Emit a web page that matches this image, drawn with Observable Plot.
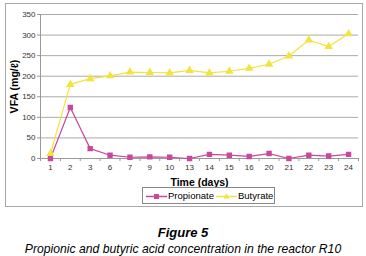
<!DOCTYPE html>
<html><head><meta charset="utf-8">
<script src="https://cdn.jsdelivr.net/npm/d3@7"></script>
<script src="https://cdn.jsdelivr.net/npm/@observablehq/plot@0.6"></script>
<style>
body{margin:0;background:#fff;font-family:"Liberation Sans",Arial,sans-serif;}
#wrap{position:relative;width:366px;height:256px;}
#box{position:absolute;left:5px;top:3px;width:356px;height:202px;border:1px solid #a8a8a8;box-sizing:content-box;}
#chart{position:absolute;left:0;top:0;}
#legend{position:absolute;left:142px;top:187px;width:131px;height:15px;border:1px solid #888;background:#fff;font-size:9.5px;white-space:nowrap;}
#legend .item{position:absolute;top:0;height:15px;display:flex;align-items:center;}
#legend svg{margin-right:1px;}
#cap1{position:absolute;left:0;top:225px;width:366px;text-align:center;font-weight:bold;font-style:italic;font-size:13px;}
#cap2{position:absolute;left:0;top:242px;width:366px;text-align:center;font-style:italic;font-size:12.2px;}
svg g[aria-label="y-axis label"] text, svg g[aria-label="x-axis label"] text{font-weight:bold;font-size:10.5px;fill:#000;}
</style></head>
<body>
<div id="wrap">
<div id="box"></div>
<div id="chart"></div>
<div id="legend"></div>
<div id="cap1">Figure 5</div>
<div id="cap2">Propionic and butyric acid concentration in the reactor R10</div>
</div>
<script>
const days = ["1","2","3","6","7","9","10","13","14","15","16","20","21","22","23","24"];
const propionate = [0,124,24,8,3,4,3,0,10,8,5,12,0,8,6,10];
const butyrate = [12,180,194,201,210,209,208,214,208,212,219,229,249,288,272,303];
const seriesNames = ["Propionate","Butyrate"];
const colors = ["#c9479c","#f3e33f"];
const yTicks = [0,50,100,150,200,250,300,350];

const rows = [];
days.forEach((d,i)=>{
  rows.push({i, day:d, series:"Propionate", value:propionate[i]});
  rows.push({i, day:d, series:"Butyrate", value:butyrate[i]});
});
const boundaries = d3.range(-0.5, days.length, 1);

const plot = Plot.plot({
  width:366, height:190,
  marginLeft:40, marginRight:8, marginTop:14, marginBottom:32,
  style:{fontFamily:"Liberation Sans, Arial, sans-serif", fontSize:"8px", background:"transparent"},
  x:{type:"linear", domain:[-0.5, days.length-0.5]},
  y:{domain:[0,350]},
  color:{domain:seriesNames, range:colors},
  symbol:{domain:seriesNames, range:["square","triangle"]},
  marks:[
    Plot.gridY(yTicks.filter(v=>v>0), {stroke:"#aaa", strokeOpacity:1, strokeWidth:1}),
    Plot.axisY({ticks:yTicks, tickSize:3, stroke:"#999", label:"VFA (mg/ℓ)", labelAnchor:"center", labelArrow:"none", labelOffset:30, tickPadding:2, fill:"#333"}),
    Plot.axisX({ticks:d3.range(days.length), tickSize:0, tickFormat:i=>days[i], label:"Time (days)", labelAnchor:"center", labelArrow:"none", labelOffset:27, tickPadding:6, fill:"#333"}),
    Plot.axisX({ticks:boundaries, tickSize:3, tickFormat:()=>"", stroke:"#999", label:null}),
    Plot.ruleX([-0.5], {stroke:"#999"}),
    Plot.ruleY([0], {stroke:"#999"}),
    Plot.line(rows, {x:"i", y:"value", z:"series", stroke:"series", strokeWidth:1.2}),
    Plot.dot(rows, {x:"i", y:"value", fill:"series", stroke:"series", symbol:"series", r:2.2})
  ]
});
document.getElementById("chart").appendChild(plot);

const leg = document.getElementById("legend");
const legLeft = [3, 73];
seriesNames.forEach((s,k)=>{
  const item = document.createElement("span");
  item.className="item";
  item.style.left = legLeft[k] + "px";
  const shape = k===0
    ? `<rect x="8" y="4" width="5" height="5" fill="${colors[k]}"/>`
    : `<path d="M10.5,3.5 L13.5,8.5 L7.5,8.5 Z" fill="${colors[k]}"/>`;
  item.innerHTML = `<svg width="21" height="12"><line x1="0" x2="21" y1="6.5" y2="6.5" stroke="${colors[k]}" stroke-width="1.5"/>${shape}</svg><span>${s}</span>`;
  leg.appendChild(item);
});
</script>
</body></html>
